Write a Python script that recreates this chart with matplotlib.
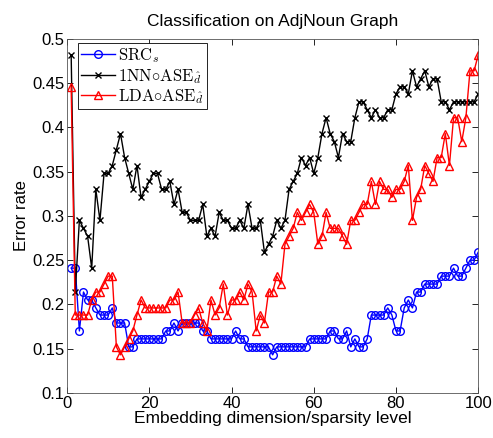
import numpy as np
import matplotlib
matplotlib.use('Agg')
import matplotlib.pyplot as plt

# =====================================================================
# DATA  (error rate per embedding dimension / sparsity level 1..100)
# =====================================================================
dims = np.arange(1, 101)

src = [0.241, 0.241, 0.170, 0.214, 0.205, 0.205, 0.196, 0.188, 0.188, 0.188,
       0.196, 0.179, 0.179, 0.179, 0.152, 0.152, 0.161, 0.161, 0.161, 0.161,
       0.161, 0.161, 0.161, 0.170, 0.170, 0.179, 0.170, 0.179, 0.179, 0.179,
       0.179, 0.179, 0.170, 0.170, 0.161, 0.161, 0.161, 0.161, 0.161, 0.161,
       0.170, 0.161, 0.161, 0.152, 0.152, 0.152, 0.152, 0.152, 0.152, 0.143,
       0.152, 0.152, 0.152, 0.152, 0.152, 0.152, 0.152, 0.152, 0.161, 0.161,
       0.161, 0.161, 0.161, 0.170, 0.170, 0.161, 0.161, 0.170, 0.152, 0.161,
       0.152, 0.152, 0.161, 0.188, 0.188, 0.188, 0.188, 0.196, 0.188, 0.170,
       0.170, 0.196, 0.205, 0.196, 0.214, 0.214, 0.223, 0.223, 0.223, 0.223,
       0.232, 0.232, 0.232, 0.241, 0.232, 0.232, 0.241, 0.250, 0.250, 0.259]

nn_ase = [0.482, 0.214, 0.295, 0.286, 0.277, 0.241, 0.330, 0.295, 0.348, 0.348,
          0.357, 0.375, 0.393, 0.366, 0.348, 0.330, 0.357, 0.321, 0.330, 0.339,
          0.348, 0.348, 0.330, 0.330, 0.339, 0.313, 0.330, 0.304, 0.304, 0.295,
          0.295, 0.295, 0.313, 0.277, 0.286, 0.277, 0.304, 0.295, 0.295, 0.286,
          0.286, 0.295, 0.286, 0.313, 0.286, 0.286, 0.295, 0.259, 0.268, 0.277,
          0.295, 0.286, 0.295, 0.330, 0.339, 0.348, 0.366, 0.357, 0.366, 0.348,
          0.366, 0.393, 0.411, 0.393, 0.384, 0.366, 0.393, 0.384, 0.384, 0.411,
          0.429, 0.429, 0.420, 0.411, 0.420, 0.411, 0.411, 0.420, 0.420, 0.438,
          0.446, 0.446, 0.438, 0.464, 0.446, 0.455, 0.464, 0.446, 0.455, 0.455,
          0.429, 0.429, 0.420, 0.429, 0.429, 0.429, 0.429, 0.429, 0.429, 0.438]

lda_ase = [0.446, 0.188, 0.188, 0.188, 0.188, 0.205, 0.214, 0.214, 0.223, 0.232,
           0.232, 0.152, 0.143, 0.152, 0.161, 0.170, 0.188, 0.205, 0.196, 0.196,
           0.196, 0.196, 0.196, 0.196, 0.205, 0.205, 0.214, 0.179, 0.179, 0.179,
           0.188, 0.196, 0.179, 0.170, 0.205, 0.188, 0.196, 0.223, 0.188, 0.205,
           0.205, 0.214, 0.205, 0.223, 0.214, 0.170, 0.188, 0.179, 0.214, 0.214,
           0.232, 0.223, 0.268, 0.277, 0.286, 0.304, 0.295, 0.304, 0.313, 0.304,
           0.268, 0.277, 0.304, 0.286, 0.286, 0.286, 0.277, 0.268, 0.295, 0.295,
           0.304, 0.313, 0.313, 0.339, 0.313, 0.339, 0.330, 0.330, 0.321, 0.330,
           0.330, 0.339, 0.357, 0.295, 0.321, 0.330, 0.357, 0.348, 0.339, 0.366,
           0.366, 0.393, 0.357, 0.411, 0.411, 0.384, 0.411, 0.464, 0.464, 0.482]

xticks = [0, 20, 40, 60, 80, 100]
yticks = [0.1, 0.15, 0.2, 0.25, 0.3, 0.35, 0.4, 0.45, 0.5]
yticklabels = ['0.1', '0.15', '0.2', '0.25', '0.3', '0.35', '0.4', '0.45', '0.5']


# =====================================================================
# PLOT
# =====================================================================
plt.rcParams['font.family'] = ['Liberation Sans', 'DejaVu Sans']
plt.rcParams['mathtext.fontset'] = 'cm'

fig = plt.figure(figsize=(4.93, 4.38), dpi=100)
ax = fig.add_axes([0.136, 0.103, 0.834, 0.808])

ax.plot(dims, src, '-o', color='blue', lw=1.0, ms=5.5, mfc='none', mew=1.0,
        label=r'$\mathrm{SRC}_s$')
ax.plot(dims, nn_ase, '-x', color='black', lw=1.0, ms=4, mew=1.0,
        label=r'$\mathrm{1NN}{\circ}\mathrm{ASE}_{\hat{d}}$')
ax.plot(dims, lda_ase, '-^', color='red', lw=1.0, ms=6, mfc='none', mew=1.0,
        label=r'$\mathrm{LDA}{\circ}\mathrm{ASE}_{\hat{d}}$')

ax.set_xlim(0, 100)
ax.set_ylim(0.1, 0.5)
ax.set_xticks(xticks)
ax.set_yticks(yticks)
ax.set_yticklabels(yticklabels)
ax.tick_params(direction='in', top=True, right=True, length=4, width=0.6,
               labelsize=12, pad=2)
for sp in ax.spines.values():
    sp.set_linewidth(0.6)
    sp.set_color('#555555')

ax.set_xlabel('Embedding dimension/sparsity level', fontsize=12.5, labelpad=0)
ax.set_ylabel('Error rate', fontsize=12, labelpad=2)
ax.set_title('Classification on AdjNoun Graph', fontsize=12.5, pad=9)

leg = ax.legend(loc='upper left', bbox_to_anchor=(0.027, 0.989), fontsize=12,
                fancybox=False, framealpha=1, edgecolor='black',
                handlelength=2.0, handletextpad=0.2, borderpad=0.2,
                labelspacing=0.1, borderaxespad=0)
leg.get_frame().set_linewidth(0.6)

fig.savefig('out.png', dpi=100)
